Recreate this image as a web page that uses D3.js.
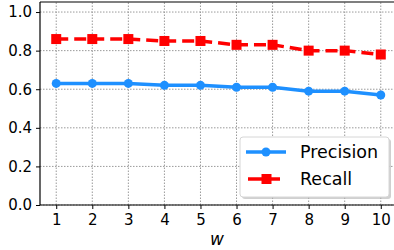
<!DOCTYPE html>
<html>
<head>
<meta charset="utf-8">
<script src="https://cdn.jsdelivr.net/npm/d3@7"></script>
<style>
  body { margin: 0; background: #fff; }
  svg { display: block; font-family: "DejaVu Sans", sans-serif; }
</style>
</head>
<body>
<svg id="chart"></svg>
<script>
const wValues = [1, 2, 3, 4, 5, 6, 7, 8, 9, 10];
const precision = [0.63, 0.63, 0.63, 0.62, 0.62, 0.61, 0.61, 0.59, 0.59, 0.57];
const recall = [0.86, 0.86, 0.86, 0.85, 0.85, 0.83, 0.83, 0.80, 0.80, 0.78];
const yTicks = [0.0, 0.2, 0.4, 0.6, 0.8, 1.0];

const width = 394, height = 250;
const margin = { top: 2, right: -3, bottom: 45, left: 40 };

const svg = d3.select('#chart').attr('width', width).attr('height', height);

const x = d3.scaleLinear().domain([0.55, 10.45]).range([margin.left, width - margin.right]);
const y = d3.scaleLinear().domain([0, 1.052]).range([height - margin.bottom, margin.top]);

const x0 = margin.left, x1 = width - margin.right;
const y0 = height - margin.bottom, y1 = margin.top;

// grid
const grid = svg.append('g');
grid.selectAll('.vg').data(wValues).enter().append('line')
    .attr('x1', d => x(d)).attr('x2', d => x(d))
    .attr('y1', y0).attr('y2', y1)
    .attr('stroke', '#9a9a9a').attr('stroke-width', 1).attr('stroke-dasharray', '1.5,1.5');
grid.selectAll('.hg').data(yTicks).enter().append('line')
    .attr('x1', x0).attr('x2', x1)
    .attr('y1', d => y(d)).attr('y2', d => y(d))
    .attr('stroke', '#9a9a9a').attr('stroke-width', 1).attr('stroke-dasharray', '1.5,1.5');

// axes
const xAxis = svg.append('g')
    .attr('transform', 'translate(0,' + y0 + ')')
    .call(d3.axisBottom(x).tickValues(wValues).tickSize(4).tickPadding(5).tickFormat(d3.format('d')));
const yAxis = svg.append('g')
    .attr('transform', 'translate(' + x0 + ',0)')
    .call(d3.axisLeft(y).tickValues(yTicks).tickSize(4).tickPadding(4).tickFormat(d3.format('.1f')));
[xAxis, yAxis].forEach(a => {
    a.select('.domain').remove();
    a.selectAll('text').attr('font-size', 15).attr('font-family', '"DejaVu Sans", sans-serif').attr('fill', '#000');
    a.selectAll('line').attr('stroke', '#000');
});

// spines
svg.append('line').attr('x1', x0).attr('x2', x0).attr('y1', y0).attr('y2', y1).attr('stroke', '#000').attr('stroke-width', 1.2);
svg.append('line').attr('x1', x0).attr('x2', x1).attr('y1', y0).attr('y2', y0).attr('stroke', '#000').attr('stroke-width', 1.2);
svg.append('line').attr('x1', x0).attr('x2', x1).attr('y1', y1).attr('y2', y1).attr('stroke', '#000').attr('stroke-width', 1.2);

// lines
const line = d3.line().x((d, i) => x(wValues[i])).y(d => y(d));

svg.append('path').datum(precision)
    .attr('d', line).attr('fill', 'none')
    .attr('stroke', '#1e90ff').attr('stroke-width', 3.5);
svg.selectAll('.pm').data(precision).enter().append('circle')
    .attr('cx', (d, i) => x(wValues[i])).attr('cy', d => y(d))
    .attr('r', 4.5).attr('fill', '#1e90ff');

svg.append('path').datum(recall)
    .attr('d', line).attr('fill', 'none')
    .attr('stroke', '#ff0000').attr('stroke-width', 3.5)
    .attr('stroke-dasharray', '12,6');
svg.selectAll('.rm').data(recall).enter().append('rect')
    .attr('x', (d, i) => x(wValues[i]) - 5).attr('y', d => y(d) - 5)
    .attr('width', 10).attr('height', 10).attr('fill', '#ff0000');

// x label
svg.append('text')
    .attr('x', (x0 + 394) / 2).attr('y', 245)
    .attr('text-anchor', 'middle')
    .attr('font-size', 17).attr('font-style', 'italic')
    .text('w');

// legend
const lg = svg.append('g');
lg.append('rect').attr('x', 242).attr('y', 139).attr('width', 149).attr('height', 60)
    .attr('rx', 3).attr('fill', '#b0b0b0').attr('opacity', 0.6);
lg.append('rect').attr('x', 240).attr('y', 137).attr('width', 149).attr('height', 60)
    .attr('rx', 3).attr('fill', '#fff').attr('stroke', '#d6d6d6').attr('stroke-width', 1);

const legendItems = [
    { name: 'Precision', color: '#1e90ff', shape: 'circle', from: 246, to: 286 },
    { name: 'Recall', color: '#ff0000', shape: 'square', from: 248, to: 280 }
];
legendItems.forEach((it, i) => {
    const ly = 152 + i * 27;
    lg.append('line').attr('x1', it.from).attr('x2', it.to).attr('y1', ly).attr('y2', ly)
        .attr('stroke', it.color).attr('stroke-width', 3.5);
    if (it.shape === 'circle') {
        lg.append('circle').attr('cx', 266).attr('cy', ly).attr('r', 4.5).attr('fill', it.color);
    } else {
        lg.append('rect').attr('x', 261.5).attr('y', ly - 5).attr('width', 10).attr('height', 10).attr('fill', it.color);
    }
    lg.append('text').attr('x', 300).attr('y', ly + 6)
        .attr('font-size', 17.5).attr('fill', '#000').text(it.name);
});
</script>
</body>
</html>
